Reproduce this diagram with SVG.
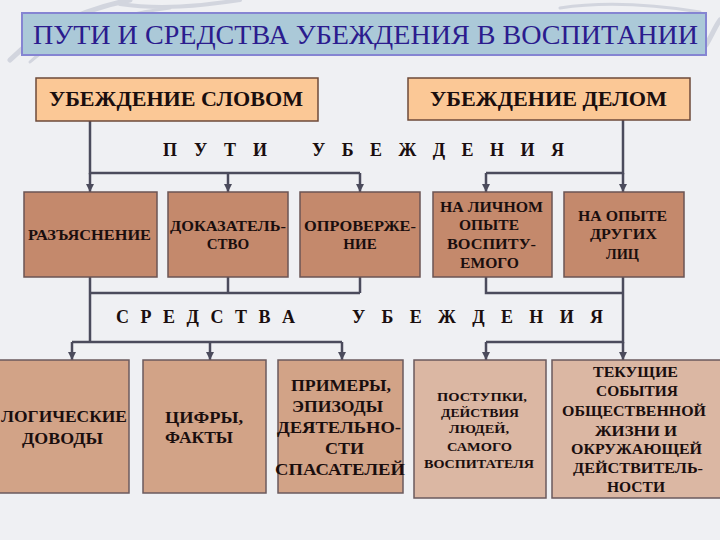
<svg xmlns="http://www.w3.org/2000/svg" width="720" height="540" viewBox="0 0 720 540">
  <defs>
    <style>
      .t { font-weight: bold; fill: #1a0e0e; }
      .title { font-size: 28px; fill: #2b1c8e; }
      .top { fill: #fbc896; stroke: #6e4a3a; stroke-width: 1.5; }
      .b2 { fill: #c4896c; stroke: #6b5454; stroke-width: 1.5; }
      .b3a { fill: #d2a387; stroke: #6b5a5e; stroke-width: 1.5; }
      .b3b { fill: #dbb7a3; stroke: #6b5a5e; stroke-width: 1.5; }
      .ln { fill: none; stroke: #4b4b5c; stroke-width: 2.5; }
      .arr { fill: none; stroke: #4b4b5c; stroke-width: 2.5; marker-end: url(#ah); }
      .sw { fill: none; stroke: #d2d5de; stroke-linecap: round; }
    </style>
    <marker id="ah" viewBox="0 0 10 10" refX="10" refY="5" markerWidth="3.4" markerHeight="3.4" orient="auto" markerUnits="strokeWidth">
      <path d="M0,0 L10,5 L0,10 z" fill="#4b4b5c"/>
    </marker>
  </defs>

  <rect x="0" y="0" width="720" height="540" fill="#eff0f3"/>
  <g id="background-swirls">
    <path class="sw" stroke-width="5" d="M10,60 C40,30 80,10 130,0"/>
    <path class="sw" stroke-width="3" d="M30,62 C60,35 110,15 170,8"/>
    <path class="sw" stroke-width="4" d="M120,4 C160,10 200,6 240,0"/>
    <path class="sw" stroke-width="3" d="M560,8 C600,2 650,4 700,12"/>
    <path class="sw" stroke-width="5" d="M706,45 C712,35 716,25 720,20"/>
  </g>

  <g id="connectors">
    <path class="ln" d="M90,121 V173 H360"/>
    <path class="arr" d="M90,173 V192"/>
    <path class="arr" d="M228,173 V192"/>
    <path class="arr" d="M360,173 V192"/>
    <path class="ln" d="M623,120 V173 H486"/>
    <path class="arr" d="M623,173 V192"/>
    <path class="arr" d="M486,173 V192"/>
    <path class="ln" d="M90,277 V342"/>
    <path class="ln" d="M228,277 V293"/>
    <path class="ln" d="M360,277 V293"/>
    <path class="ln" d="M90,293 H360"/>
    <path class="ln" d="M72,342 H342"/>
    <path class="arr" d="M72,342 V360"/>
    <path class="arr" d="M210,342 V360"/>
    <path class="arr" d="M342,342 V360"/>
    <path class="ln" d="M486,277 V293 H623"/>
    <path class="ln" d="M623,277 V342 H486"/>
    <path class="arr" d="M623,342 V360"/>
    <path class="arr" d="M486,342 V360"/>
  </g>

  <g font-family="Liberation Serif, Times New Roman, DejaVu Serif, serif">
  <g id="title">
    <rect x="22" y="13" width="684" height="42" fill="#abc9d8" stroke="#8585d2" stroke-width="2"/>
    <text class="title" x="33" y="44" textLength="665" lengthAdjust="spacingAndGlyphs">ПУТИ И СРЕДСТВА УБЕЖДЕНИЯ В ВОСПИТАНИИ</text>
  </g>

  <g id="slovom">
    <rect class="top" x="36" y="78" width="282" height="43"/>
    <text class="t" font-size="20" x="49" y="106" textLength="254" lengthAdjust="spacingAndGlyphs">УБЕЖДЕНИЕ СЛОВОМ</text>
  </g>
  <g id="delom">
    <rect class="top" x="408" y="78" width="282" height="42"/>
    <text class="t" font-size="20" x="430" y="106" textLength="237" lengthAdjust="spacingAndGlyphs">УБЕЖДЕНИЕ ДЕЛОМ</text>
  </g>

  <g id="label-puti">
    <text class="t" font-size="18" x="163" y="156" textLength="104" lengthAdjust="spacing">П У Т И</text>
    <text class="t" font-size="18" x="312" y="156" textLength="252" lengthAdjust="spacing">У Б Е Ж Д Е Н И Я</text>
  </g>

  <g id="razyasnenie">
    <rect class="b2" x="24" y="192" width="133" height="85"/>
    <text class="t" font-size="15" x="28" y="240" textLength="123" lengthAdjust="spacingAndGlyphs">РАЗЪЯСНЕНИЕ</text>
  </g>
  <g id="dokazatelstvo">
    <rect class="b2" x="168" y="192" width="120" height="85"/>
    <text class="t" font-size="15" x="170" y="231" textLength="116" lengthAdjust="spacingAndGlyphs">ДОКАЗАТЕЛЬ-</text>
    <text class="t" font-size="15" x="228" y="249" text-anchor="middle">СТВО</text>
  </g>
  <g id="oproverzhenie">
    <rect class="b2" x="300" y="192" width="120" height="85"/>
    <text class="t" font-size="15" x="304" y="231" textLength="112" lengthAdjust="spacingAndGlyphs">ОПРОВЕРЖЕ-</text>
    <text class="t" font-size="15" x="360" y="249" text-anchor="middle">НИЕ</text>
  </g>
  <g id="lichnyi-opyt">
    <rect class="b2" x="433" y="192" width="119" height="85"/>
    <text class="t" font-size="14" x="440" y="212" textLength="103" lengthAdjust="spacingAndGlyphs">НА ЛИЧНОМ</text>
    <text class="t" font-size="14" x="459" y="230" textLength="60" lengthAdjust="spacingAndGlyphs">ОПЫТЕ</text>
    <text class="t" font-size="14" x="447" y="249" textLength="89" lengthAdjust="spacingAndGlyphs">ВОСПИТУ-</text>
    <text class="t" font-size="14" x="460" y="268" textLength="59" lengthAdjust="spacingAndGlyphs">ЕМОГО</text>
  </g>
  <g id="opyt-drugih">
    <rect class="b2" x="564" y="192" width="120" height="85"/>
    <text class="t" font-size="14" x="578" y="221" textLength="89" lengthAdjust="spacingAndGlyphs">НА ОПЫТЕ</text>
    <text class="t" font-size="14" x="590" y="239" textLength="67" lengthAdjust="spacingAndGlyphs">ДРУГИХ</text>
    <text class="t" font-size="14" x="606" y="259" textLength="33" lengthAdjust="spacingAndGlyphs">ЛИЦ</text>
  </g>

  <g id="label-sredstva">
    <text class="t" font-size="18" x="116" y="323" textLength="179" lengthAdjust="spacing">С Р Е Д С Т В А</text>
    <text class="t" font-size="18" x="352" y="323" textLength="251" lengthAdjust="spacing">У Б Е Ж Д Е Н И Я</text>
  </g>

  <g id="logicheskie">
    <rect class="b3a" x="-2" y="360" width="131" height="133"/>
    <text class="t" font-size="16" x="1" y="422" textLength="126" lengthAdjust="spacingAndGlyphs">ЛОГИЧЕСКИЕ</text>
    <text class="t" font-size="16" x="22" y="444" textLength="81" lengthAdjust="spacingAndGlyphs">ДОВОДЫ</text>
  </g>
  <g id="cifry">
    <rect class="b3a" x="143" y="360" width="123" height="133"/>
    <text class="t" font-size="16" x="165" y="423" textLength="78" lengthAdjust="spacingAndGlyphs">ЦИФРЫ,</text>
    <text class="t" font-size="16" x="165" y="443" textLength="68" lengthAdjust="spacingAndGlyphs">ФАКТЫ</text>
  </g>
  <g id="primery">
    <rect class="b3a" x="278" y="360" width="125" height="133"/>
    <text class="t" font-size="16" x="291" y="391" textLength="100" lengthAdjust="spacingAndGlyphs">ПРИМЕРЫ,</text>
    <text class="t" font-size="16" x="292" y="412" textLength="91" lengthAdjust="spacingAndGlyphs">ЭПИЗОДЫ</text>
    <text class="t" font-size="16" x="277" y="433" textLength="124" lengthAdjust="spacingAndGlyphs">ДЕЯТЕЛЬНО-</text>
    <text class="t" font-size="16" x="325" y="454" textLength="39" lengthAdjust="spacingAndGlyphs">СТИ</text>
    <text class="t" font-size="16" x="275" y="475" textLength="130" lengthAdjust="spacingAndGlyphs">СПАСАТЕЛЕЙ</text>
  </g>
  <g id="postupki">
    <rect class="b3b" x="414" y="360" width="132" height="138"/>
    <text class="t" font-size="12" x="437" y="401" textLength="90" lengthAdjust="spacingAndGlyphs">ПОСТУПКИ,</text>
    <text class="t" font-size="12" x="441" y="417" textLength="78" lengthAdjust="spacingAndGlyphs">ДЕЙСТВИЯ</text>
    <text class="t" font-size="12" x="449" y="433" textLength="60" lengthAdjust="spacingAndGlyphs">ЛЮДЕЙ,</text>
    <text class="t" font-size="12" x="447" y="451" textLength="65" lengthAdjust="spacingAndGlyphs">САМОГО</text>
    <text class="t" font-size="12" x="424" y="468" textLength="110" lengthAdjust="spacingAndGlyphs">ВОСПИТАТЕЛЯ</text>
  </g>
  <g id="tekushchie">
    <rect class="b3b" x="552" y="360" width="170" height="138"/>
    <text class="t" font-size="15" x="593" y="377" textLength="85" lengthAdjust="spacingAndGlyphs">ТЕКУЩИЕ</text>
    <text class="t" font-size="15" x="596" y="396" textLength="82" lengthAdjust="spacingAndGlyphs">СОБЫТИЯ</text>
    <text class="t" font-size="15" x="562" y="416" textLength="144" lengthAdjust="spacingAndGlyphs">ОБЩЕСТВЕННОЙ</text>
    <text class="t" font-size="15" x="595" y="436" textLength="82" lengthAdjust="spacingAndGlyphs">ЖИЗНИ  И</text>
    <text class="t" font-size="15" x="571" y="454" textLength="131" lengthAdjust="spacingAndGlyphs">ОКРУЖАЮЩЕЙ</text>
    <text class="t" font-size="15" x="573" y="473" textLength="130" lengthAdjust="spacingAndGlyphs">ДЕЙСТВИТЕЛЬ-</text>
    <text class="t" font-size="15" x="607" y="492" textLength="58" lengthAdjust="spacingAndGlyphs">НОСТИ</text>
  </g>
  </g>
</svg>
